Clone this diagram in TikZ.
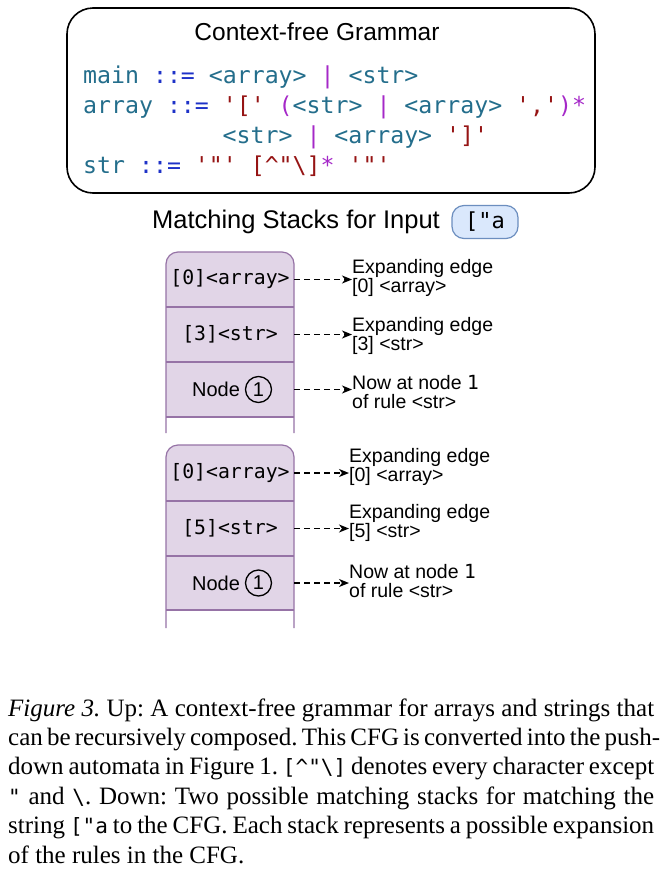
\documentclass[tikz,border=0pt]{standalone}
\usepackage{fontspec}
\usepackage{graphicx}
\setmainfont{Liberation Serif}
\newfontfamily\arialf{Liberation Sans}
\newfontfamily\codef{DejaVu Sans Mono}[Ligatures=TeXOff]
\usetikzlibrary{arrows.meta}
\definecolor{cid}{RGB}{36,110,140}
\definecolor{cop}{RGB}{30,50,200}
\definecolor{cpu}{RGB}{165,40,200}
\definecolor{clit}{RGB}{150,20,20}
\definecolor{stackfill}{RGB}{225,213,231}
\definecolor{stackline}{RGB}{150,115,166}
\definecolor{pillfill}{RGB}{218,232,252}
\definecolor{pillline}{RGB}{108,142,191}
\newcommand\cid[1]{\textcolor{cid}{#1}}
\newcommand\cop[1]{\textcolor{cop}{#1}}
\newcommand\cpu[1]{\textcolor{cpu}{#1}}
\newcommand\clit[1]{\textcolor{clit}{#1}}
\newcommand\capcode[1]{{\codef\fontsize{21}{21}\selectfont #1}}
\begin{document}
\begin{tikzpicture}[x=1pt,y=-1pt,
  gbox/.style={draw, line width=1.6pt, rounded corners=26pt, minimum width=528pt, minimum height=185pt},
  title/.style={font=\arialf\fontsize{24.5}{26}\selectfont, inner sep=0},
  codeline/.style={anchor=west, inner sep=0, font=\codef\fontsize{23.2}{26}\selectfont},
  pill/.style={draw=pillline, fill=pillfill, line width=1.2pt, rounded corners=12pt, minimum width=66pt, minimum height=33pt, inner sep=0, font=\codef\fontsize{22}{24}\selectfont},
  cell/.style={minimum width=128pt, inner sep=0, font=\codef\fontsize{19.8}{22}\selectfont},
  nodetxt/.style={inner sep=0, font=\arialf\fontsize{20}{22}\selectfont},
  circ/.style={circle, draw, line width=1.3pt, minimum size=26pt, inner sep=0, font=\arialf\fontsize{20}{22}\selectfont},
  lbl/.style={anchor=west, align=left, inner sep=0, font=\arialf\fontsize{19.5}{19}\selectfont},
  stk/.style={draw=stackline, line width=1.2pt},
  dasharrow/.style={draw, dash pattern=on 6pt off 4pt, line width=1.5pt, -{Stealth[length=10pt,width=8pt,inset=3pt]}},
  capline/.style={anchor=base west, inner sep=0, font=\fontsize{25}{29}\selectfont}]
\useasboundingbox[fill=white] (0,0) rectangle (660,873);

% grammar box
\node[gbox] (g) at (331,100.5) {};
\node[title] (gt) at (317,32) {Context-free Grammar};
\node[codeline] (c1) at (83,77) {\cid{main} \cop{::=} \cid{<array>} \cpu{|} \cid{<str>}};
\node[codeline] (c2) at (83,107) {\cid{array} \cop{::=} \clit{'['} \cpu{(}\cid{<str>} \cpu{|} \cid{<array>} \clit{','}\cpu{)*}};
\node[codeline] (c3) at (222.5,137) {\cid{<str>} \cpu{|} \cid{<array>} \clit{']'}};
\node[codeline] (c4) at (83,166) {\cid{str} \cop{::=} \clit{'"'} \clit{[\textasciicircum"\textbackslash]}\cpu{*} \clit{'"'}};

% heading
\node[title, font=\arialf\fontsize{25.5}{27}\selectfont] (ms) at (296,222) {Matching Stacks for Input};
\node[pill] (inp) at (485,222) {["a};

% stack 1
\begin{scope}
  \clip (150,240) rectangle (310,417);
  \fill[stackfill, rounded corners=12pt] (166,252) rectangle (294,460);
\end{scope}
\draw[stk, rounded corners=12pt] (166,433) -- (166,252) -- (294,252) -- (294,433);
\draw[stk] (166,307) -- (294,307);
\draw[stk] (166,362) -- (294,362);
\draw[stk] (166,417) -- (294,417);
\node[cell, minimum height=55pt] (s1a) at (230,279.5) {[0]<array>};
\node[cell, minimum height=55pt] (s1b) at (230,334.5) {[3]<str>};
\node[cell, minimum height=55pt] (s1c) at (230,389.5) {};
\node[nodetxt] (s1ct) at (216,389.5) {Node};
\node[circ] (s1cn) at (258.5,389.5) {1};

% stack 2
\begin{scope}
  \clip (150,430) rectangle (310,610);
  \fill[stackfill, rounded corners=12pt] (166,445) rectangle (294,660);
\end{scope}
\draw[stk, rounded corners=12pt] (166,628) -- (166,445) -- (294,445) -- (294,628);
\draw[stk] (166,501) -- (294,501);
\draw[stk] (166,556) -- (294,556);
\draw[stk] (166,610) -- (294,610);
\node[cell, minimum height=56pt] (s2a) at (230,473) {[0]<array>};
\node[cell, minimum height=55pt] (s2b) at (230,528.5) {[5]<str>};
\node[cell, minimum height=54pt] (s2c) at (230,583) {};
\node[nodetxt] (s2ct) at (216,583) {Node};
\node[circ] (s2cn) at (258.5,583) {1};

% labels stack 1
\node[lbl] (l1a) at (352,278) {Expanding edge\\\protect{[0] <array>}};
\node[lbl] (l1b) at (352,335.5) {Expanding edge\\\protect{[3] <str>}};
\node[lbl] (l1c) at (352,392) {Now at node {\codef 1}\\of rule <str>};
% labels stack 2
\node[lbl] (l2a) at (349,467) {Expanding edge\\\protect{[0] <array>}};
\node[lbl] (l2b) at (349,523) {Expanding edge\\\protect{[5] <str>}};
\node[lbl] (l2c) at (349,581) {Now at node {\codef 1}\\of rule <str>};

\draw[dasharrow] (s1a.east) -- (s1a.east -| l1a.west);
\draw[dasharrow] (s1b.east) -- (s1b.east -| l1b.west);
\draw[dasharrow] (s1c.east) -- (s1c.east -| l1c.west);
\draw[dasharrow] (s2a.east) -- (s2a.east -| l2a.west);
\draw[dasharrow] (s2b.east) -- (s2b.east -| l2b.west);
\draw[dasharrow] (s2c.east) -- (s2c.east -| l2c.west);

% caption
\node[capline] (k1) at (8,716) {\frenchspacing\makebox[646pt][s]{\textit{Figure 3.} Up: A context-free grammar for arrays and strings that}};
\node[capline] (k2) at (8,745.4) {\frenchspacing\makebox[646pt][s]{can be recursively composed. This CFG is converted into the push-}};
\node[capline] (k3) at (8,774.8) {\frenchspacing\makebox[646pt][s]{down automata in Figure 1. \capcode{[\textasciicircum"\textbackslash]} denotes every character except}};
\node[capline] (k4) at (8,804.2) {\frenchspacing\makebox[646pt][s]{\capcode{"} and \capcode{\textbackslash}. Down: Two possible matching stacks for matching the}};
\node[capline] (k5) at (8,833.6) {\frenchspacing\makebox[646pt][s]{string \capcode{["a} to the CFG. Each stack represents a possible expansion}};
\node[capline] (k6) at (8,863) {\frenchspacing of the rules in the CFG.};
\end{tikzpicture}
\end{document}
